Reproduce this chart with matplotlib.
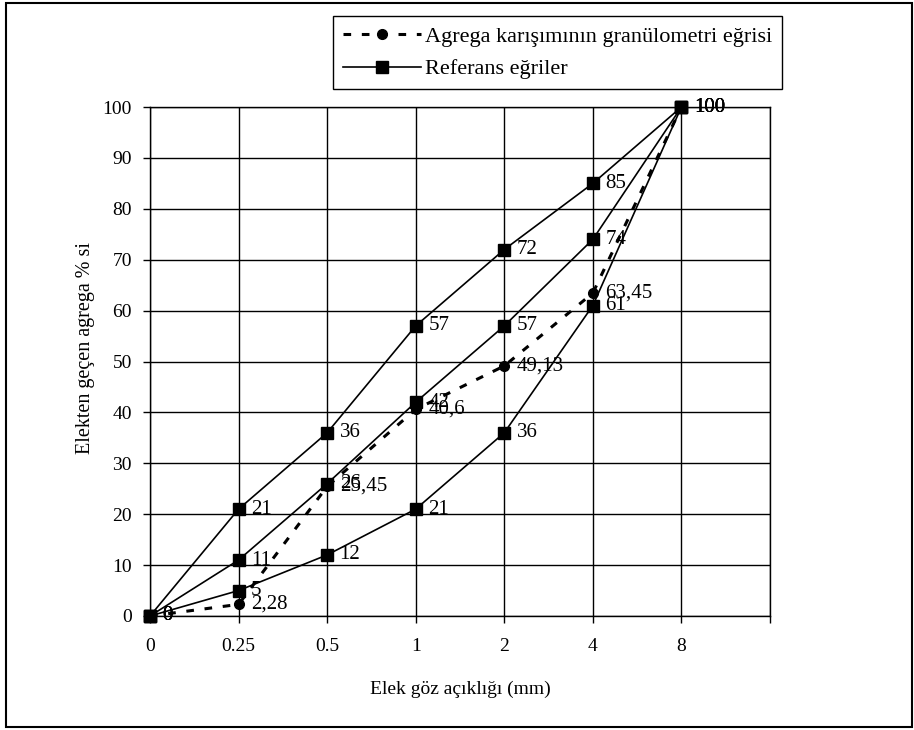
import matplotlib.pyplot as plt
from matplotlib.patches import Rectangle

plt.rcParams['font.family'] = ['Liberation Serif', 'DejaVu Serif']

# elek acikliklari (kategori ekseni)
sieves = ['0', '0.25', '0.5', '1', '2', '4', '8']

mix = [0, 2.28, 25.45, 40.6, 49.13, 63.45, 100]
ref_upper = [0, 21, 36, 57, 72, 85, 100]
ref_mid = [0, 11, 26, 42, 57, 74, 100]
ref_low = [0, 5, 12, 21, 36, 61, 100]


def fmt(v):
    if float(v).is_integer():
        return str(int(v))
    return str(v).replace('.', ',')


fig = plt.figure(figsize=(9.14, 7.3), dpi=100)
ax = fig.add_axes([150 / 914, 1 - 616 / 730, 620 / 914, 509 / 730])

x = list(range(len(sieves)))

first = True
for ref in [ref_upper, ref_mid, ref_low]:
    ax.plot(x, ref, '-', color='black', lw=1.2, marker='s', ms=8,
            label='Referans eğriler' if first else None, zorder=3)
    first = False
    for xi, v in zip(x, ref):
        ax.annotate(fmt(v), (xi, v), xytext=(9, 0), textcoords='offset points',
                    va='center', ha='left', fontsize=15)

ax.plot(x, mix, color='black', lw=2.2, ls=(0, (2.5, 3.5)), marker='o', ms=7,
        label='Agrega karışımının granülometri eğrisi', zorder=4)
for xi, v in zip(x, mix):
    ax.annotate(fmt(v), (xi, v), xytext=(9, 0), textcoords='offset points',
                va='center', ha='left', fontsize=15)

ax.set_xlim(0, 7)
ax.set_ylim(0, 100)
ax.set_xticks(range(8))
ax.set_xticklabels(sieves + [''], fontsize=14)
ax.set_yticks(range(0, 101, 10))
ax.tick_params(axis='both', direction='out', length=5, width=1, labelsize=14, pad=8)
ax.tick_params(axis='x', pad=11)
ax.grid(True, color='black', lw=1)
ax.set_axisbelow(True)
for s in ax.spines.values():
    s.set_color('black')
    s.set_linewidth(1)
for line in ax.lines:
    line.set_clip_on(False)

ax.set_xlabel('Elek göz açıklığı (mm)', fontsize=14, labelpad=18)
ax.set_ylabel('Elekten geçen agrega % si', fontsize=14.5)
ax.yaxis.set_label_coords(-0.089, 0.527)

h, l = ax.get_legend_handles_labels()
leg = fig.legend(h[::-1], l[::-1], loc='upper left', bbox_to_anchor=(333 / 914, 1 - 16 / 730),
                 fontsize=16, frameon=True, fancybox=False, edgecolor='black',
                 framealpha=1, borderpad=0.45, handlelength=3.5, handletextpad=0.2,
                 borderaxespad=0, labelspacing=0.55)
leg.get_frame().set_linewidth(1)

fig.patches.append(Rectangle((6 / 914, 3 / 730), 906 / 914, 724 / 730, transform=fig.transFigure,
                             fill=False, edgecolor='black', lw=1.5))

fig.savefig('out.png', dpi=100)
